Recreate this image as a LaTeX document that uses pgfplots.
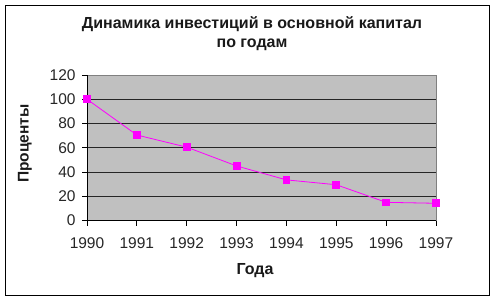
\documentclass[border=0pt]{standalone}
\usepackage{fontspec}
\setmainfont{Liberation Sans}
\usepackage{pgfplots}
\pgfplotsset{compat=1.18}
\definecolor{plotgray}{RGB}{192,192,192}
\definecolor{mag}{RGB}{255,0,255}
\definecolor{bordergray}{RGB}{128,128,128}
\begin{document}
\begin{tikzpicture}[x=1bp,y=1bp]
\useasboundingbox (-87,-80.5) rectangle (408,220.5);
\draw[black, line width=1.2bp] (-81.5,215) rectangle (402.5,-75);
\begin{axis}[
  at={(0,0)}, anchor=south west,
  scale only axis, width=349bp, height=145.5bp,
  xmin=1990, xmax=1997, ymin=0, ymax=120,
  xtick={1990,...,1997}, ytick={0,20,...,120},
  xtick pos=bottom, ytick pos=left,
  tick align=outside, major tick length=5bp,
  tick style={black, line width=0.8bp},
  axis line style={bordergray, line width=0.6bp},
  axis background/.style={fill=plotgray},
  extra y ticks={20,40,60,80,100}, extra y tick labels={},
  extra y tick style={grid=major, major tick length=0pt},
  grid style={black!85, line width=1bp},
  /pgf/number format/assume math mode=true,
  /pgf/number format/1000 sep={},
  ticklabel style={font=\fontsize{15.5bp}{17bp}\selectfont, text=black!85},
  x tick label style={yshift=-8.5bp},
  y tick label style={xshift=-3bp},
  clip=false,
]
\draw[black, line width=0.9bp] (rel axis cs:0,1) -- (rel axis cs:0,0) -- (rel axis cs:1,0);
\addplot[mag, line width=0.8bp, mark=square*, mark size=3.4bp, mark options={fill=mag, draw=mag}]
coordinates {(1990,100) (1991,70.5) (1992,60.5) (1993,45) (1994,33.5) (1995,29.5) (1996,15) (1997,14.2)};
\end{axis}
\node[font=\bfseries\fontsize{16bp}{18bp}\selectfont, text=black!90] at (165,196) {Динамика инвестиций в основной капитал};
\node[font=\bfseries\fontsize{16bp}{18bp}\selectfont, text=black!90] at (165,176) {по годам};
\node[font=\bfseries\fontsize{16bp}{18bp}\selectfont, text=black!90] at (168,-50.2) {Года};
\node[font=\bfseries\fontsize{15.5bp}{18bp}\selectfont, text=black!90, rotate=90] at (-62,77) {Проценты};
\end{tikzpicture}
\end{document}
